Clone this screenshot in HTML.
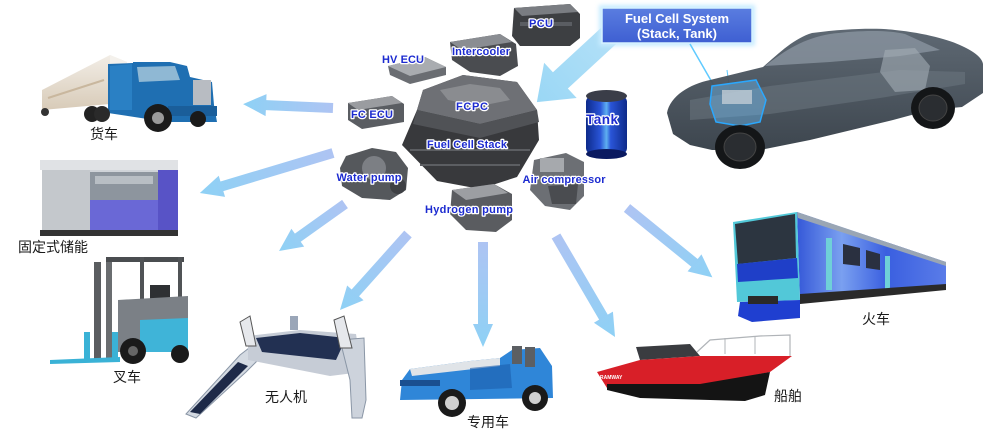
<!DOCTYPE html>
<html><head><meta charset="utf-8"><style>
html,body{margin:0;padding:0;background:#fff;}
svg{display:block;}
.lb{font-family:"Liberation Sans",sans-serif;font-weight:bold;fill:#1c2bd0;stroke:#fff;stroke-width:2.6;paint-order:stroke;stroke-linejoin:round;}
.cn{font-family:"Liberation Sans","Noto Sans CJK SC",sans-serif;font-size:14px;fill:#1a1a1a;}
</style></head><body>
<svg width="1000" height="439" viewBox="0 0 1000 439" xmlns="http://www.w3.org/2000/svg">
<defs>
<linearGradient id="ag" x1="0" y1="0" x2="1" y2="0">
<stop offset="0" stop-color="#aec4f3"/><stop offset="1" stop-color="#8ed1f5"/>
</linearGradient>
<linearGradient id="bg" x1="0" y1="0" x2="1" y2="0">
<stop offset="0" stop-color="#b8e2f8"/><stop offset="1" stop-color="#9ad7f5"/>
</linearGradient>
<linearGradient id="box" x1="0" y1="0" x2="0" y2="1">
<stop offset="0" stop-color="#5a7de0"/><stop offset="1" stop-color="#3e5fd2"/>
</linearGradient>
<linearGradient id="tank" x1="0" y1="0" x2="1" y2="0">
<stop offset="0" stop-color="#0d2a8a"/><stop offset="0.35" stop-color="#2a55d8"/><stop offset="0.5" stop-color="#5fb0f0"/><stop offset="0.6" stop-color="#2a55d8"/><stop offset="1" stop-color="#0d2a8a"/>
</linearGradient>
<linearGradient id="train" x1="0" y1="0" x2="1" y2="0">
<stop offset="0" stop-color="#3558d8"/><stop offset="0.3" stop-color="#7aa0f0"/><stop offset="0.6" stop-color="#3a5fe0"/><stop offset="1" stop-color="#5a7ce8"/>
</linearGradient>
<linearGradient id="trailer" x1="0" y1="0" x2="0" y2="1">
<stop offset="0" stop-color="#f2ede6"/><stop offset="1" stop-color="#d8cbb8"/>
</linearGradient>
<linearGradient id="carb" x1="0" y1="0" x2="0" y2="1">
<stop offset="0" stop-color="#56616c"/><stop offset="1" stop-color="#333c45"/>
</linearGradient>
<filter id="glow" x="-20%" y="-40%" width="140%" height="180%"><feGaussianBlur stdDeviation="2"/></filter>
</defs>

<!-- ARROWS -->
<g transform="translate(628,18) rotate(137.3)"><polygon points="0,-11 92,-11 92,-24 124,0 92,24 92,11 0,11" fill="url(#bg)"/></g>
<g transform="translate(333,108) rotate(182.5)"><polygon points="0,-5 67,-5 67,-11 90,0 67,11 67,5 0,5" fill="url(#ag)"/></g>
<g transform="translate(333,153) rotate(163.3)"><polygon points="0,-5 116,-5 116,-11 139,0 116,11 116,5 0,5" fill="url(#ag)"/></g>
<g transform="translate(345,204) rotate(144.5)"><polygon points="0,-5 58,-5 58,-11 81,0 58,11 58,5 0,5" fill="url(#ag)"/></g>
<g transform="translate(408,234) rotate(131.8)"><polygon points="0,-5 79,-5 79,-11 102,0 79,11 79,5 0,5" fill="url(#ag)"/></g>
<g transform="translate(483,242) rotate(90)"><polygon points="0,-5 82,-5 82,-10 105,0 82,10 82,5 0,5" fill="url(#ag)"/></g>
<g transform="translate(556,236) rotate(59.7)"><polygon points="0,-5 94,-5 94,-11 117,0 94,11 94,5 0,5" fill="url(#ag)"/></g>
<g transform="translate(627,208) rotate(39.1)"><polygon points="0,-5 87,-5 87,-11 110,0 87,11 87,5 0,5" fill="url(#ag)"/></g>

<!-- FUEL CELL SYSTEM BOX -->
<rect x="599" y="5" width="156" height="41" fill="#c8ecff" filter="url(#glow)"/>
<rect x="602" y="8" width="150" height="35" fill="url(#box)" stroke="#d6f2ff" stroke-width="1.5"/>
<text x="677" y="23" text-anchor="middle" font-family="Liberation Sans,sans-serif" font-weight="bold" font-size="13" fill="#fff">Fuel Cell System</text>
<text x="677" y="38" text-anchor="middle" font-family="Liberation Sans,sans-serif" font-weight="bold" font-size="13" fill="#fff">(Stack, Tank)</text>

<!-- CAR -->
<line x1="690" y1="44" x2="713" y2="84" stroke="#5fcaff" stroke-width="1.5"/>
<line x1="727" y1="70" x2="730" y2="92" stroke="#5fcaff" stroke-width="1"/>
<path d="M667,113 C670,96 690,84 710,80 L763,67 C780,52 795,38 812,33 C850,28 880,28 895,30 C925,33 950,40 962,46 C975,52 982,58 983,64 L983,93 L962,107 L930,110 L893,120 L810,140 L760,150 L712,150 L690,145 L673,134 Z" fill="url(#carb)" opacity="0.95"/>
<path d="M765,66 C785,50 805,38 830,34 C860,30 888,30 905,34 L940,50 L900,56 L830,62 Z" fill="#8c97a3" opacity="0.75"/>
<path d="M690,100 L770,86 L900,70 L965,72 L965,84 L880,98 L770,114 L690,120 Z" fill="#6b7680" opacity="0.55"/>
<path d="M885,50 L915,48 L930,66 L925,90 L895,92 L880,72 Z" fill="#a4adb6" opacity="0.6"/>
<path d="M712,86 L756,80 L766,100 L760,122 L740,126 L716,122 L710,104 Z" fill="#6fc4ff" opacity="0.4"/>
<path d="M712,86 L756,80 L766,100 L760,122 L740,126 L716,122 L710,104 Z" fill="none" stroke="#2aa8ff" stroke-width="1.5"/>
<rect x="722" y="90" width="30" height="14" fill="#cfd6dc" opacity="0.7"/>
<ellipse cx="740" cy="147" rx="25" ry="22" fill="#141618"/>
<ellipse cx="740" cy="147" rx="16" ry="14" fill="#2a2d31" stroke="#444" stroke-width="1"/>
<ellipse cx="933" cy="108" rx="22" ry="21" fill="#141618"/>
<ellipse cx="933" cy="108" rx="14" ry="13" fill="#2a2d31" stroke="#444" stroke-width="1"/>

<!-- COMPONENTS -->
<path d="M514,8 L570,4 L580,14 L580,38 L570,46 L520,46 L512,36 Z" fill="#3d3f42"/>
<path d="M514,8 L570,4 L578,12 L522,16 Z" fill="#7a7d82"/>
<rect x="520" y="22" width="52" height="4" fill="#5a5d62"/>
<path d="M450,42 L500,34 L516,44 L518,66 L500,76 L470,72 L452,60 Z" fill="#4a4c50"/>
<path d="M450,42 L500,34 L512,42 L462,50 Z" fill="#8a8d92"/>
<path d="M388,66 L425,57 L446,67 L446,75 L410,84 L390,75 Z" fill="#6a6d72"/>
<path d="M388,66 L425,57 L446,67 L410,76 Z" fill="#a9acb0"/>
<path d="M348,103 L392,96 L404,104 L404,122 L362,129 L348,120 Z" fill="#5a5d62"/>
<path d="M348,103 L392,96 L402,103 L358,110 Z" fill="#9a9ca0"/>
<path d="M423,90 L463,75 L517,82 L537,110 L539,140 L517,177 L480,189 L437,181 L402,145 L417,110 Z" fill="#38393c"/>
<path d="M423,90 L463,75 L517,82 L537,110 L480,124 L417,110 Z" fill="#6e7075"/>
<path d="M417,110 L480,124 L537,110 L539,122 L480,138 L413,124 Z" fill="#505256"/>
<path d="M440,90 L470,84 L500,88 L510,100 L480,106 L448,100 Z" fill="#8a8c90"/>
<line x1="410" y1="150" x2="530" y2="150" stroke="#5c5e62" stroke-width="2"/>
<line x1="420" y1="165" x2="520" y2="165" stroke="#5c5e62" stroke-width="2"/>
<rect x="586" y="96" width="41" height="58" rx="6" fill="url(#tank)"/>
<ellipse cx="606.5" cy="96" rx="20.5" ry="6" fill="#3a3d48"/>
<ellipse cx="606.5" cy="154" rx="20.5" ry="5" fill="#0a1a60"/>
<path d="M346,156 L372,148 L396,152 L408,168 L406,190 L390,200 L362,198 L342,186 L340,168 Z" fill="#55585c"/>
<circle cx="374" cy="168" r="12" fill="#7c7f84"/>
<circle cx="398" cy="186" r="8" fill="#3e4044"/>
<path d="M534,160 L566,153 L584,162 L584,196 L570,210 L545,206 L530,190 Z" fill="#6c6f74"/>
<rect x="540" y="158" width="24" height="14" fill="#a6a9ad"/>
<path d="M548,186 L578,184 L576,204 L552,204 Z" fill="#4a4c50"/>
<path d="M452,190 L494,184 L512,194 L512,220 L496,232 L466,230 L450,214 Z" fill="#5a5c60"/>
<path d="M452,190 L494,184 L508,193 L466,200 Z" fill="#9c9ea2"/>

<!-- COMPONENT LABELS -->
<text class="lb" x="541" y="27" font-size="11" text-anchor="middle" textLength="24">PCU</text>
<text class="lb" x="481" y="55" font-size="11" text-anchor="middle" textLength="58">Intercooler</text>
<text class="lb" x="403" y="63" font-size="11" text-anchor="middle" textLength="42">HV ECU</text>
<text class="lb" x="472" y="110" font-size="11" text-anchor="middle" textLength="32">FCPC</text>
<text class="lb" x="372" y="118" font-size="11" text-anchor="middle" textLength="42">FC ECU</text>
<text class="lb" x="602" y="124" font-size="13.5" text-anchor="middle" textLength="32">Tank</text>
<text class="lb" x="467" y="148" font-size="11" text-anchor="middle" textLength="80">Fuel Cell Stack</text>
<text class="lb" x="369" y="181" font-size="11" text-anchor="middle" textLength="65">Water pump</text>
<text class="lb" x="564" y="183" font-size="11" text-anchor="middle" textLength="83">Air compressor</text>
<text class="lb" x="469" y="213" font-size="11" text-anchor="middle" textLength="88">Hydrogen pump</text>

<!-- TRUCK -->
<polygon points="42,90 110,55 127,62 127,104 110,104 42,110" fill="url(#trailer)"/>
<polygon points="110,55 127,62 127,104 110,104" fill="#f4f1ec"/>
<line x1="48" y1="98" x2="104" y2="80" stroke="#c9b79e" stroke-width="2"/>
<polygon points="108,64 133,63 133,62 170,62 187,66 190,77 212,82 214,105 217,122 167,122 108,113" fill="#1f6fb2"/>
<polygon points="110,66 132,64 132,110 110,110" fill="#2a80c4"/>
<polygon points="137,67 175,66 180,80 139,82" fill="#8fb8d4"/>
<rect x="193" y="80" width="18" height="25" fill="#b8bcc2"/>
<rect x="168" y="106" width="49" height="10" fill="#1a5e9a"/>
<circle cx="45" cy="112" r="4" fill="#333"/>
<circle cx="92" cy="114" r="8" fill="#222"/><circle cx="102" cy="114" r="8" fill="#2a2a2a"/>
<circle cx="158" cy="118" r="14" fill="#1a1a1a"/><circle cx="158" cy="118" r="6" fill="#9a9a9a"/>
<circle cx="198" cy="119" r="8" fill="#1a1a1a"/>
<text class="cn" x="90" y="139">货车</text>

<!-- ENERGY STORAGE -->
<polygon points="42,164 170,160 178,168 178,234 42,236" fill="#cfd3d8"/>
<rect x="40" y="160" width="138" height="10" fill="#e0e2e5"/>
<rect x="42" y="170" width="48" height="62" fill="#c4c8cc"/>
<rect x="90" y="172" width="68" height="28" fill="#8d959e"/>
<rect x="95" y="176" width="58" height="8" fill="#b8bec4"/>
<rect x="90" y="200" width="68" height="30" fill="#6a68d6"/>
<rect x="158" y="170" width="20" height="62" fill="#5853c6"/>
<rect x="40" y="230" width="138" height="6" fill="#333"/>
<text class="cn" x="18" y="252">固定式储能</text>

<!-- FORKLIFT -->
<rect x="94" y="262" width="7" height="100" fill="#5a5d60"/>
<rect x="106" y="262" width="6" height="100" fill="#6a6d70"/>
<rect x="106" y="257" width="78" height="5" fill="#4a4d50"/>
<rect x="140" y="257" width="4" height="45" fill="#505356"/>
<rect x="178" y="257" width="4" height="50" fill="#505356"/>
<rect x="150" y="285" width="20" height="22" fill="#2e3033"/>
<polygon points="118,300 188,296 188,352 118,352" fill="#7b8086"/>
<polygon points="140,320 188,318 188,352 140,352" fill="#3fb4d8"/>
<rect x="84" y="332" width="6" height="30" fill="#3ab2d6"/>
<rect x="112" y="332" width="6" height="30" fill="#3ab2d6"/>
<polygon points="50,360 120,357 120,362 50,364" fill="#3ab2d6"/>
<circle cx="133" cy="351" r="13" fill="#1a1a1a"/><circle cx="133" cy="351" r="5" fill="#666"/>
<circle cx="180" cy="354" r="9" fill="#1a1a1a"/>
<text class="cn" x="113" y="382">叉车</text>

<!-- CATAMARAN DRONE -->
<polygon points="186,414 240,355 262,338 272,346 246,372 196,418" fill="#d4dae2" stroke="#8a96a6" stroke-width="1"/>
<polygon points="190,412 238,362 248,366 200,414" fill="#1e2a48"/>
<polygon points="248,336 300,330 356,334 362,372 330,376 248,360" fill="#c6ccd6"/>
<polygon points="256,338 300,333 346,338 336,360 262,352" fill="#223052"/>
<polygon points="340,340 364,338 366,400 362,418 352,418 350,380" fill="#cdd3dc" stroke="#8a96a6" stroke-width="1"/>
<polygon points="240,322 250,316 256,346 246,346" fill="#e6e8ec" stroke="#555" stroke-width="1"/>
<polygon points="334,320 344,316 352,348 340,348" fill="#e6e8ec" stroke="#555" stroke-width="1"/>
<rect x="290" y="316" width="8" height="14" fill="#9aa6b8"/>
<text class="cn" x="265" y="402">无人机</text>

<!-- SPECIAL VEHICLE -->
<polygon points="402,380 410,369 470,361 500,358 512,350 540,348 552,366 553,398 400,400" fill="#2f86d8"/>
<polygon points="410,369 470,361 500,358 500,366 412,376" fill="#e0e4e8"/>
<rect x="512" y="346" width="10" height="18" fill="#5c5f63"/>
<rect x="525" y="347" width="10" height="20" fill="#5c5f63"/>
<polygon points="470,368 510,364 512,388 470,390" fill="#1c5fae" opacity="0.6"/>
<rect x="400" y="380" width="40" height="6" fill="#1a4f90"/>
<circle cx="452" cy="403" r="14" fill="#1a1a1a"/><circle cx="452" cy="403" r="7" fill="#d0d0d0"/>
<circle cx="535" cy="398" r="13" fill="#1a1a1a"/><circle cx="535" cy="398" r="6" fill="#d0d0d0"/>
<text class="cn" x="467" y="427">专用车</text>

<!-- BOAT -->
<polyline points="697,352 710,340 760,336 790,335 790,356" fill="none" stroke="#b0b4b8" stroke-width="1.2"/>
<line x1="725" y1="338" x2="725" y2="354" stroke="#b0b4b8" stroke-width="1"/>
<line x1="755" y1="336" x2="755" y2="354" stroke="#b0b4b8" stroke-width="1"/>
<polygon points="636,347 690,344 700,356 640,360" fill="#3a3c40"/>
<polygon points="597,372 640,360 700,356 792,356 770,372 700,386 607,388" fill="#d81f28"/>
<polygon points="607,384 700,384 770,372 765,395 745,401 640,398 607,390" fill="#141414"/>
<text x="600" y="379" font-family="Liberation Sans,sans-serif" font-size="5" font-weight="bold" fill="#fff">RAMWAY</text>
<text class="cn" x="774" y="401">船舶</text>

<!-- TRAIN -->
<polygon points="797,212 946,262 946,288 800,300" fill="url(#train)"/>
<polygon points="797,212 946,262 946,266 798,218" fill="#9aa6b4"/>
<rect x="826" y="238" width="6" height="52" fill="#6fd0d8"/>
<rect x="885" y="256" width="5" height="36" fill="#6fd0d8"/>
<polygon points="843,244 860,248 860,266 843,264" fill="#2a3040"/>
<polygon points="866,250 880,254 880,270 866,268" fill="#2a3040"/>
<polygon points="800,294 946,284 946,290 800,304" fill="#2a2a2a"/>
<polygon points="733,222 797,212 800,300 737,302" fill="#52c8d8"/>
<polygon points="735,224 795,214 796,258 738,264" fill="#2c3540"/>
<polygon points="737,264 797,258 798,278 738,282" fill="#1f3fc8"/>
<polygon points="740,302 800,300 800,318 752,322 738,316" fill="#1f3fd0"/>
<rect x="748" y="296" width="30" height="8" fill="#2a2a2a"/>
<text class="cn" x="862" y="324">火车</text>
</svg>
</body></html>
